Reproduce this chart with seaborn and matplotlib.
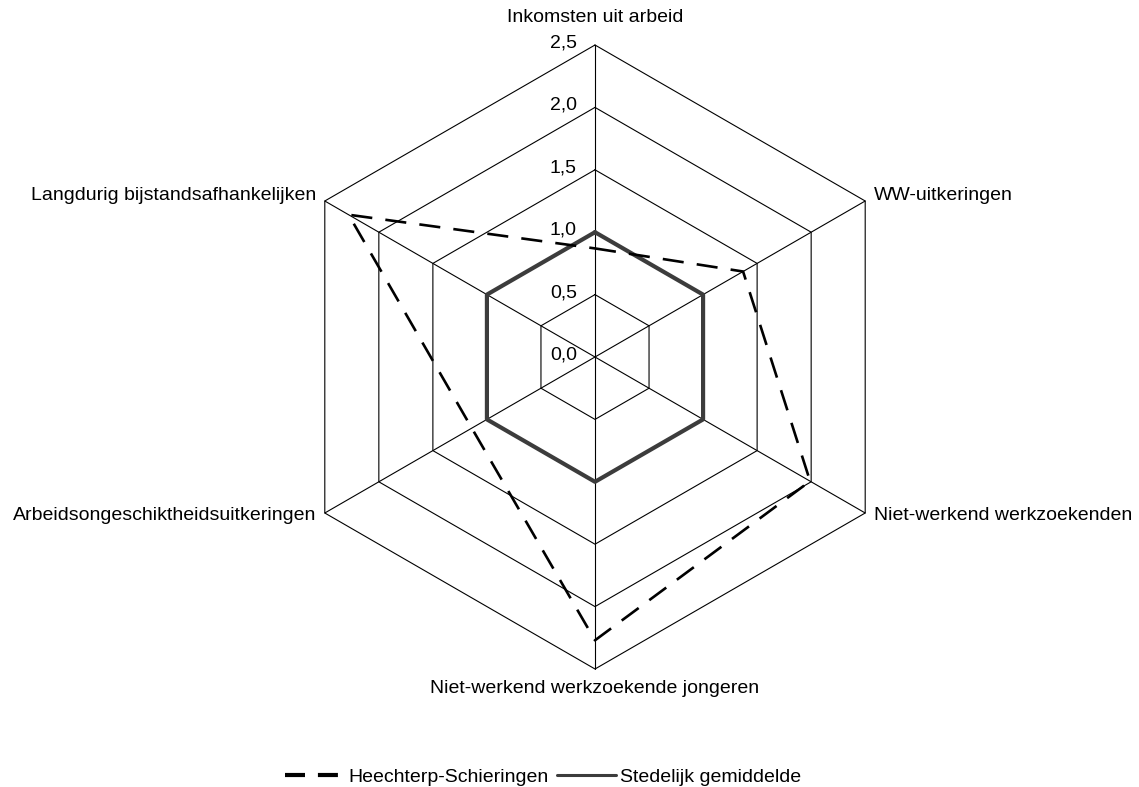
import numpy as np
import pandas as pd
import matplotlib
matplotlib.use("Agg")
import matplotlib.pyplot as plt
import seaborn as sns

# -----------------------------------
# Data
# -----------------------------------
categories = [
    "Inkomsten uit arbeid",
    "WW-uitkeringen",
    "Niet-werkend werkzoekenden",
    "Niet-werkend werkzoekende jongeren",
    "Arbeidsongeschiktheidsuitkeringen",
    "Langdurig bijstandsafhankelijken",
]
heechterp = [0.87, 1.37, 1.99, 2.27, 1.14, 2.28]
stedelijk = [1.0, 1.0, 1.0, 1.0, 1.0, 1.0]
series_names = ["Heechterp-Schieringen", "Stedelijk gemiddelde"]
ring_values = [0.0, 0.5, 1.0, 1.5, 2.0, 2.5]
ring_labels = ["0,0", "0,5", "1,0", "1,5", "2,0", "2,5"]

# -----------------------------------
# Geometry helpers
# -----------------------------------
n = len(categories)
angles = np.pi / 2 - np.arange(n) * 2 * np.pi / n   # clockwise from top
r_max = ring_values[-1]


def to_xy(values):
    vals = np.asarray(values + values[:1], dtype=float)
    ang = np.append(angles, angles[0])
    return vals * np.cos(ang), vals * np.sin(ang)


def series_frame(values, name):
    x, y = to_xy(values)
    return pd.DataFrame({"x": x, "y": y, "serie": name})


# -----------------------------------
# Figure
# -----------------------------------
sns.set_style("white")
plt.rcParams["font.family"] = ["Liberation Sans", "DejaVu Sans"]
plt.rcParams["text.color"] = "black"

W, H = 1139, 787
px_per_unit = 124.8
cx, cy = 595, 357

fig = plt.figure(figsize=(W / 100, H / 100), dpi=100)
ax = fig.add_axes([0, 0, 1, 1])
ax.set_xlim(-cx / px_per_unit, (W - cx) / px_per_unit)
ax.set_ylim(-(H - cy) / px_per_unit, cy / px_per_unit)
ax.axis("off")

# grid: hexagons + spokes
for rv in ring_values[1:]:
    gx, gy = to_xy([rv] * n)
    ax.plot(gx, gy, color="black", lw=0.8, zorder=1)
for a in angles:
    ax.plot([0, r_max * np.cos(a)], [0, r_max * np.sin(a)], color="black", lw=0.8, zorder=1)

# series
sns.lineplot(data=series_frame(heechterp, series_names[0]), x="x", y="y",
             sort=False, estimator=None, color="black", lw=1.9,
             linestyle=(0, (8, 5)), ax=ax, label=series_names[0], zorder=3)
sns.lineplot(data=series_frame(stedelijk, series_names[1]), x="x", y="y",
             sort=False, estimator=None, color="#3c3c3c", lw=3.0,
             ax=ax, label=series_names[1], zorder=2)

# ring value labels
for rv, lab in zip(ring_values, ring_labels):
    ax.annotate(lab, (0, rv), xytext=(-13, 1.5), textcoords="offset points",
                ha="right", va="center", fontsize=14)

# category labels
for cat, a in zip(categories, angles):
    px, py = r_max * np.cos(a), r_max * np.sin(a)
    c, s = np.cos(a), np.sin(a)
    if abs(c) < 1e-6:
        off = (0, 20) if s > 0 else (0, -14)
        ax.annotate(cat, (px, py), xytext=off, textcoords="offset points",
                    ha="center", va="center", fontsize=14)
    else:
        off = (6 if c > 0 else -6, 4 if s > 0 else -2)
        ax.annotate(cat, (px, py), xytext=off, textcoords="offset points",
                    ha="left" if c > 0 else "right", va="center", fontsize=14)

leg = ax.legend(loc="center", bbox_to_anchor=(0.477, 0.013), ncol=2, frameon=False,
                fontsize=14, handlelength=3.0, handletextpad=0.25, columnspacing=0.45)
hl = leg.get_lines()
hl[0].set_linewidth(3.0)
hl[0].set_dashes((4.8, 3.1))
hl[1].set_linewidth(2.2)

fig.savefig("out.png", dpi=100)
